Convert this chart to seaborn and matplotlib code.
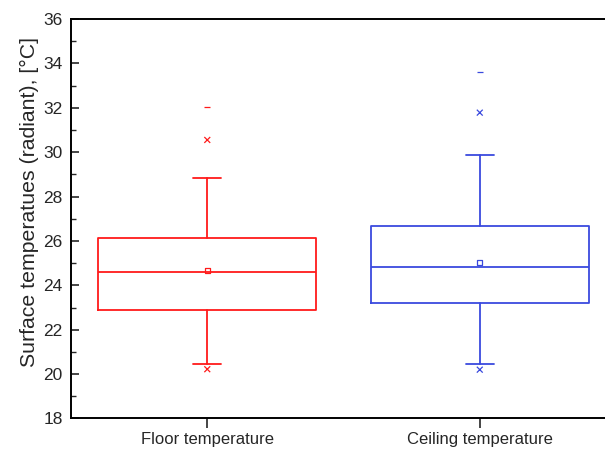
import matplotlib
matplotlib.use("Agg")
import matplotlib.pyplot as plt
from matplotlib.ticker import MultipleLocator
import numpy as np
import pandas as pd
import seaborn as sns

# Summary statistics of the surface temperatures, °C
categories = ["Floor temperature", "Ceiling temperature"]
q1 = [22.87, 23.22]
median = [24.60, 24.84]
q3 = [26.12, 26.66]
whisker_low = [20.45, 20.45]
whisker_high = [28.83, 29.88]
mean = [24.66, 25.04]
pct_low = [20.22, 20.20]
pct_high = [30.55, 31.78]
maximum = [32.03, 33.60]

colors = ["#ff1a1a", "#3a4ade"]

sns.set_style("ticks")
plt.rcParams["font.family"] = ["Liberation Sans", "DejaVu Sans"]

fig = plt.figure(figsize=(6.05, 4.54), dpi=100)
ax = fig.add_axes([0.1174, 0.0782, 0.9008, 0.880])

positions = np.arange(len(categories))

for i, c in enumerate(colors):
    stats = [dict(med=median[i], q1=q1[i], q3=q3[i],
                  whislo=whisker_low[i], whishi=whisker_high[i], fliers=[])]
    lp = dict(color=c, linewidth=1.3)
    ax.bxp(stats, positions=[positions[i]], widths=0.8, capwidths=0.103,
           showfliers=False, boxprops=lp, medianprops=lp,
           whiskerprops=lp, capprops=lp, manage_ticks=False)

df = pd.DataFrame({
    "pos": np.tile(positions, 4),
    "value": mean + pct_low + pct_high + maximum,
    "stat": ["mean"] * 2 + ["pct"] * 4 + ["max"] * 2,
    "group": categories * 4,
})

palette = dict(zip(categories, colors))
sub = df[df["stat"] == "mean"]
sns.scatterplot(data=sub, x="pos", y="value", hue="group", palette=palette,
                marker="s", s=14, facecolors="none", linewidth=0.9,
                legend=False, ax=ax)
for stat, mk, size in [("pct", "x", 18), ("max", "_", 18)]:
    sub = df[df["stat"] == stat]
    sns.scatterplot(data=sub, x="pos", y="value", hue="group",
                    palette=palette, marker=mk, s=size, linewidth=0.9,
                    legend=False, ax=ax)

# keep the hollow squares hollow
for coll in ax.collections[:1]:
    coll.set_facecolor("none")
    coll.set_edgecolor(colors)

ax.set_xlim(-0.5, 1.5)
ax.set_ylim(18, 36)
ax.set_xticks(positions)
ax.set_xticklabels(categories, fontsize=12)
ax.yaxis.set_major_locator(MultipleLocator(2))
ax.yaxis.set_minor_locator(MultipleLocator(1))
ax.tick_params(axis="y", which="major", direction="in", length=6,
               width=1.2, labelsize=12.5, pad=6)
ax.tick_params(axis="y", which="minor", direction="in", length=3.5,
               width=1.0)
ax.tick_params(axis="x", which="major", direction="out", length=7,
               width=1.2, pad=3)
ax.set_xlabel("")
ax.set_ylabel("Surface temperatues (radiant), [°C]", fontsize=15.3)
ax.yaxis.set_label_coords(-0.058, 0.543)
for side in ["left", "top", "bottom", "right"]:
    ax.spines[side].set_linewidth(1.4)
    ax.spines[side].set_color("black")

fig.savefig("out.png", dpi=100)
